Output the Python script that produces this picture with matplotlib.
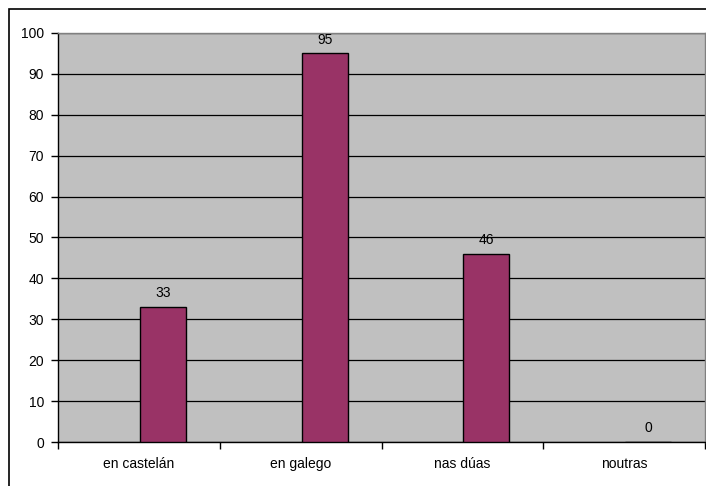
import matplotlib.pyplot as plt
import numpy as np
from matplotlib.patches import Rectangle

plt.rcParams['font.family'] = ['Liberation Sans', 'DejaVu Sans']

categories = ['en castelán', 'en galego', 'nas dúas', 'noutras']
values = [33, 95, 46, 0]
yticks = [0, 10, 20, 30, 40, 50, 60, 70, 80, 90, 100]

fig = plt.figure(figsize=(7.06, 4.86), dpi=100)
# outer chart frame (right and bottom edges fall outside the picture)
fig.patches.append(Rectangle((9 / 706, -0.1), 1.2, (486 - 9) / 486 + 0.1,
                             transform=fig.transFigure, fill=False,
                             edgecolor='black', linewidth=1.2, zorder=0))

ax = fig.add_axes([58 / 706, 44 / 486, 647 / 706, 409 / 486])
ax.set_facecolor('#C0C0C0')

# bars sit just right of the category centre, as in the original
x = np.arange(len(categories))
bw = 0.284
ax.bar(x + 0.006, values, width=bw, align='edge', color='#993366',
       edgecolor='black', linewidth=1, zorder=3)
for xi, v in zip(x, values):
    ax.annotate(str(v), (xi + 0.006 + bw / 2, v), xytext=(0, 5),
                textcoords='offset points', ha='center', va='bottom',
                fontsize=10, zorder=4)

ax.set_ylim(0, 100)
ax.set_xlim(-0.5, len(categories) - 0.5)
ax.set_yticks(yticks)
ax.yaxis.grid(True, color='black', linewidth=0.9, zorder=1)
ax.set_axisbelow(True)

ax.set_xticks(np.arange(-0.5, len(categories)), labels=[''] * (len(categories) + 1))
ax.set_xticks(x, labels=categories, minor=True)
ax.tick_params(axis='x', which='major', direction='out', length=5, width=1, color='black')
ax.tick_params(axis='x', which='minor', length=0, pad=11, labelsize=10)
ax.tick_params(axis='y', direction='out', length=5, width=1, labelsize=10, pad=5)

ax.spines['left'].set_color('black')
ax.spines['bottom'].set_color('black')
ax.spines['top'].set_color('#808080')
ax.spines['right'].set_color('#808080')
for s in ax.spines.values():
    s.set_linewidth(1)

fig.savefig('out.png', dpi=100)
